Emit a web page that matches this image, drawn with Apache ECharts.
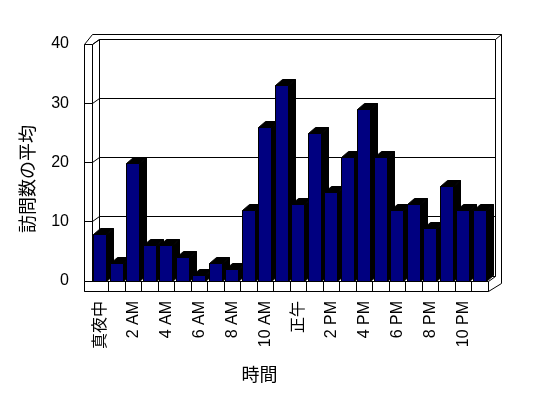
<!DOCTYPE html>
<html>
<head>
<meta charset="utf-8">
<script src="https://cdn.jsdelivr.net/npm/echarts@6/dist/echarts.min.js"></script>
<style>
html, body { margin: 0; padding: 0; background: #fff; }
#myChart { width: 548px; height: 398px; }
</style>
</head>
<body>
<div id="myChart"></div>
<script>
var hours = ['真夜中', '1 AM', '2 AM', '3 AM', '4 AM', '5 AM', '6 AM', '7 AM', '8 AM', '9 AM', '10 AM', '11 AM',
             '正午', '1 PM', '2 PM', '3 PM', '4 PM', '5 PM', '6 PM', '7 PM', '8 PM', '9 PM', '10 PM', '11 PM'];
var visits = [8, 3, 20, 6, 6, 4, 1, 3, 2, 12, 26, 33, 13, 25, 15, 21, 29, 21, 12, 13, 9, 16, 12, 12];
var yMin = 0, yMax = 40, yStep = 10;

var font = '"Liberation Sans", "Noto Sans CJK JP", sans-serif';
var dx = 7, dy = -5;        // 壁の奥行き
var barDx = 7, barDy = -6;  // 棒の奥行き

function px(v) { return Math.round(v - 0.5) + 0.5; }
function snap(points) { return points.map(function (p) { return [px(p[0]), px(p[1])]; }); }
function line(points) {
    return { type: 'polyline', silent: true, shape: { points: snap(points) },
             style: { stroke: '#000', fill: null, lineWidth: 1 } };
}
function poly(points, fill) {
    return { type: 'polygon', silent: true, shape: { points: snap(points) },
             style: { stroke: '#000', fill: fill, lineWidth: 1 } };
}

// 3D の枠（壁と床）
function renderFrame(params, api) {
    var w = api.size([1, 0])[0];
    var p0 = api.coord([0, yMin]);
    var L = p0[0] - w / 2, B = p0[1];
    var R = api.coord([hours.length - 1, yMin])[0] + w / 2;
    var T = api.coord([0, yMax])[1];
    var Bf = B + 10;
    var c = [];
    c.push(poly([[L - 8, T], [L, T + dy - 5], [R + dx + 6, T + dy - 5], [R + dx + 6, Bf - 7.5], [R, Bf], [L - 8, Bf]], '#fff'));
    c.push(poly([[L + dx, T + dy], [R + dx, T + dy], [R + dx, B + dy], [L + dx, B + dy]], '#fff'));
    c.push(poly([[L, T], [L + dx, T + dy], [L + dx, B + dy], [L, B]], '#fff'));
    for (var v = yMin; v <= yMax; v += yStep) {
        var y = api.coord([0, v])[1];
        if (v > yMin && v < yMax) c.push(line([[L + dx, y + dy], [R + dx, y + dy]]));
        c.push(line([[L, y], [L + dx, y + dy]]));
        c.push(line([[L - 8, y], [L, y]]));
    }
    c.push(line([[R + dx, T + dy], [R + dx + 6, T + dy - 5]]));
    c.push(line([[R, B], [R + dx, B + dy]]));
    c.push(poly([[L - 8, B], [R, B], [R, Bf], [L - 8, Bf]], '#fff'));
    for (var k = 1; k < hours.length; k++) {
        c.push(line([[L + k * w, B], [L + k * w, Bf]]));
    }
    return { type: 'group', children: c };
}

function renderBar(params, api) {
    var i = api.value(0), v = api.value(1);
    var top = api.coord([i, v]), base = api.coord([i, yMin]);
    var w = api.size([1, 0])[0];
    var x1 = Math.round(top[0] - w / 2 + 1), x2 = x1 + 13;
    var yt = Math.round(top[1]), yb = Math.round(base[1]);
    return {
        type: 'group',
        children: [
            poly([[x2, yt], [x2 + barDx, yt + barDy], [x2 + barDx, yb + barDy], [x2, yb]], '#000'),
            poly([[x1, yt], [x1 + barDx, yt + barDy], [x2 + barDx, yt + barDy], [x2, yt]], '#000'),
            poly([[x1, yt], [x2, yt], [x2, yb], [x1, yb]], '#000080')
        ]
    };
}

var myChart = echarts.init(document.getElementById('myChart'));

var option = {
    backgroundColor: '#fff',
    animation: false,
    grid: { left: 92, right: 60, top: 44, bottom: 117 },
    xAxis: {
        type: 'category',
        data: hours,
        axisLine: { show: false },
        axisTick: { show: false },
        axisLabel: { interval: 1, rotate: 90, margin: 20, color: '#000', fontSize: 16, fontFamily: font },
        name: '時間',
        nameLocation: 'middle',
        nameGap: 86,
        nameTextStyle: { color: '#000', fontSize: 18, fontFamily: font, padding: [0, 61, 0, 0] }
    },
    yAxis: {
        type: 'value',
        min: yMin,
        max: yMax,
        interval: yStep,
        splitLine: { show: false },
        axisLine: { show: false },
        axisTick: { show: false },
        axisLabel: { margin: 23, color: '#000', fontSize: 16, fontFamily: font },
        name: '訪問数の平均',
        nameLocation: 'middle',
        nameRotate: 90,
        nameGap: 54,
        nameTextStyle: { color: '#000', fontSize: 18, fontFamily: font, padding: [0, 33, 0, 0] }
    },
    series: [
        {
            type: 'custom',
            renderItem: renderFrame,
            data: [[0, 0]],
            encode: { x: 0, y: 1 },
            clip: false,
            silent: true,
            z: 1
        },
        {
            type: 'custom',
            renderItem: renderBar,
            data: visits.map(function (v, i) { return [i, v]; }),
            encode: { x: 0, y: 1 },
            clip: false,
            z: 2
        }
    ]
};

myChart.setOption(option);
</script>
</body>
</html>
